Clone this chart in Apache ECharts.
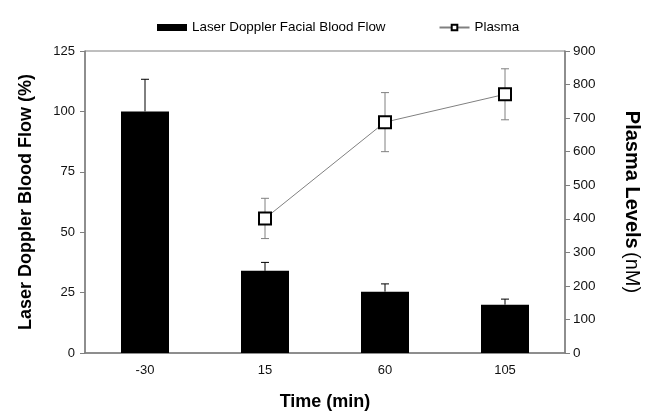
<!DOCTYPE html>
<html>
<head>
<meta charset="utf-8">
<script src="https://cdn.jsdelivr.net/npm/echarts@6/dist/echarts.min.js"></script>
<style>
  html, body { margin: 0; padding: 0; background: #fff; }
  #chart { width: 655px; height: 416px; }
</style>
</head>
<body>
<div id="chart"></div>
<script>
// values
var times = ['-30', '15', '60', '105'];
var flow = [100, 34, 25.4, 20];
var flowErr = [13.3, 3.5, 3.2, 2.3];
var plasma = [null, 401, 688, 771];
var plasmaErr = [null, 60, 88, 76];

var FONT = '"Liberation Sans", Arial, sans-serif';
var AXIS_GRAY = '#7f7f7f';

// error bars go through the chart's own axes (api.coord)
function errorBars(vals, errs, upOnly, color) {
    return function (params, api) {
        var i = api.value(0);
        var v = vals[i], e = errs[i];
        if (v == null) return;
        var lo = api.coord([i, upOnly ? v : v - e]);
        var hi = api.coord([i, v + e]);
        var w = 4;
        var style = {stroke: color, lineWidth: 1};
        return {
            type: 'group',
            children: [
                {type: 'line', shape: {x1: lo[0], y1: lo[1], x2: hi[0], y2: hi[1]}, style: style},
                {type: 'line', shape: {x1: hi[0] - w, y1: hi[1], x2: hi[0] + w, y2: hi[1]}, style: style},
                upOnly ? null : {type: 'line', shape: {x1: lo[0] - w, y1: lo[1], x2: lo[0] + w, y2: lo[1]}, style: style}
            ].filter(Boolean)
        };
    };
}

var chart = echarts.init(document.getElementById('chart'), null, {renderer: 'canvas'});
var option = {
    animation: false,
    textStyle: {fontFamily: FONT},
    legend: {
        top: 16,
        left: 152,
        itemGap: 53,
        itemWidth: 30,
        itemHeight: 7,
        textStyle: {fontFamily: FONT, fontSize: 13.4, color: '#000'},
        data: [
            {name: 'Laser Doppler Facial Blood Flow', icon: 'rect'},
            {name: 'Plasma'}
        ]
    },
    grid: {
        left: 85, right: 90, top: 51, bottom: 63,
        outerBoundsMode: 'none',
        show: true, borderColor: AXIS_GRAY, borderWidth: 1
    },
    xAxis: {
        type: 'category',
        data: times,
        name: 'Time (min)',
        nameLocation: 'middle',
        nameGap: 40,
        nameTextStyle: {fontFamily: FONT, fontSize: 18, fontWeight: 'bold', color: '#000'},
        axisLine: {lineStyle: {color: AXIS_GRAY, width: 1.5}},
        axisTick: {length: 5, lineStyle: {color: AXIS_GRAY}},
        axisLabel: {fontFamily: FONT, fontSize: 13, color: '#111', margin: 11}
    },
    yAxis: [
        {
            type: 'value',
            min: 0, max: 125, interval: 25,
            name: 'Laser Doppler Blood Flow (%)',
            nameLocation: 'middle',
            nameGap: 50,
            nameTextStyle: {fontFamily: FONT, fontSize: 18, fontWeight: 'bold', color: '#000'},
            axisLine: {show: true, lineStyle: {color: AXIS_GRAY, width: 1.5}},
            axisTick: {show: true, length: 5, lineStyle: {color: AXIS_GRAY}},
            axisLabel: {fontFamily: FONT, fontSize: 13, color: '#111', margin: 10},
            splitLine: {show: false}
        },
        {
            type: 'value',
            min: 0, max: 900, interval: 100,
            position: 'right',
            name: '{b|Plasma Levels} {n|(nM)}',
            nameLocation: 'middle',
            nameRotate: -90,
            nameGap: 57,
            nameTextStyle: {
                rich: {
                    b: {fontFamily: FONT, fontSize: 20, fontWeight: 'bold', color: '#000'},
                    n: {fontFamily: FONT, fontSize: 20, color: '#000'}
                }
            },
            axisLine: {show: true, lineStyle: {color: AXIS_GRAY, width: 1.5}},
            axisTick: {show: true, length: 5, lineStyle: {color: AXIS_GRAY}},
            axisLabel: {fontFamily: FONT, fontSize: 13.5, color: '#111', margin: 8},
            splitLine: {show: false}
        }
    ],
    series: [
        {
            name: 'Laser Doppler Facial Blood Flow',
            type: 'bar',
            yAxisIndex: 0,
            data: flow,
            barWidth: '40%',
            itemStyle: {color: '#000'},
            z: 2
        },
        {
            type: 'custom',
            yAxisIndex: 0,
            data: times.map(function (t, i) { return [i, flow[i]]; }),
            renderItem: errorBars(flow, flowErr, true, '#000'),
            z: 3
        },
        {
            type: 'custom',
            yAxisIndex: 1,
            data: times.map(function (t, i) { return [i, plasma[i]]; }),
            renderItem: errorBars(plasma, plasmaErr, false, '#808080'),
            z: 3
        },
        {
            name: 'Plasma',
            type: 'line',
            yAxisIndex: 1,
            data: plasma,
            symbol: 'rect',
            symbolSize: 12,
            lineStyle: {color: '#808080', width: 1},
            itemStyle: {color: '#fff', borderColor: '#000', borderWidth: 2},
            z: 5
        }
    ]
};
chart.setOption(option);
</script>
</body>
</html>
